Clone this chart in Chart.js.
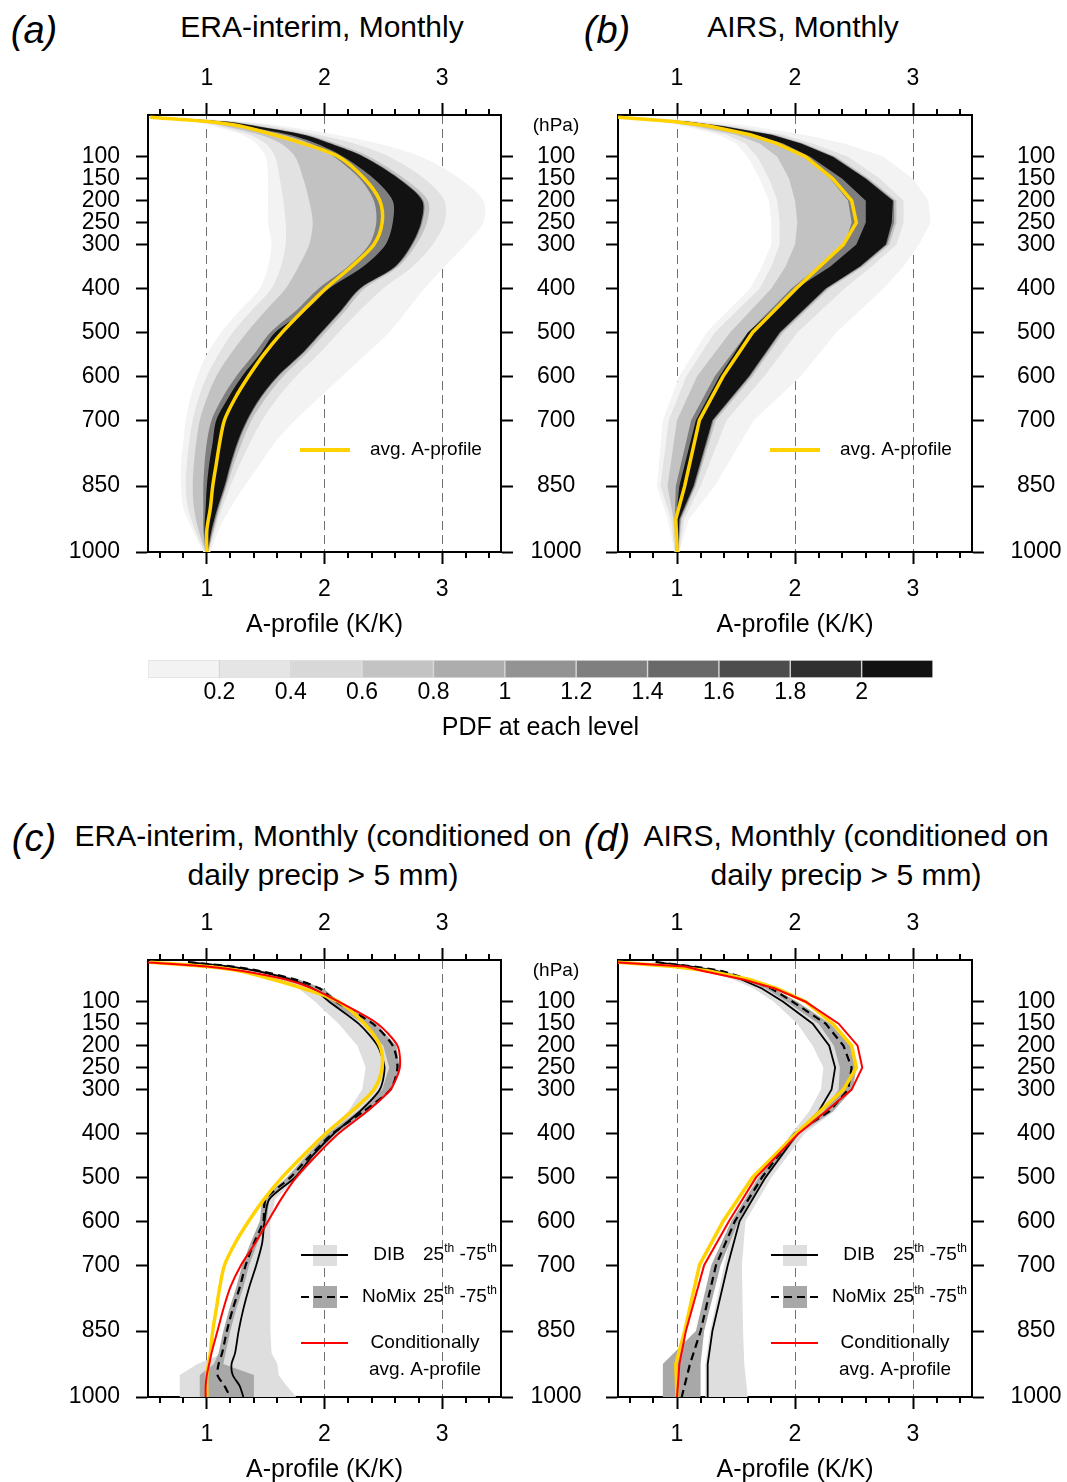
<!DOCTYPE html>
<html>
<head>
<meta charset="utf-8">
<script src="https://cdn.jsdelivr.net/npm/chart.js@4.4.1/dist/chart.umd.min.js"></script>
<style>
html, body { margin: 0; padding: 0; background: #fff; overflow: hidden; }
#page { position: relative; width: 1067px; height: 1482px; font-family: "Liberation Sans", Arial, sans-serif; color: #000; }
#page canvas { position: absolute; }
.t { position: absolute; white-space: nowrap; transform: translate(-50%, -50%); line-height: 1; font-size: 30px; }
.lt { font-style: italic; font-size: 38px; }
</style>
</head>
<body>
<div id="page">
  <div class="t lt" style="left:34px;top:30px">(a)</div>
  <div class="t" style="left:322px;top:27px">ERA-interim, Monthly</div>
  <div class="t lt" style="left:607px;top:30px">(b)</div>
  <div class="t" style="left:803px;top:27px">AIRS, Monthly</div>
  <div class="t lt" style="left:34px;top:838px">(c)</div>
  <div class="t" style="left:323px;top:836px">ERA-interim, Monthly (conditioned on</div>
  <div class="t" style="left:323px;top:875px">daily precip &gt; 5 mm)</div>
  <div class="t lt" style="left:607px;top:838px">(d)</div>
  <div class="t" style="left:846px;top:836px">AIRS, Monthly (conditioned on</div>
  <div class="t" style="left:846px;top:875px">daily precip &gt; 5 mm)</div>

  <canvas id="pa" width="600" height="610" style="left:0;top:40px"></canvas>
  <canvas id="pb" width="507" height="610" style="left:560px;top:40px"></canvas>
  <canvas id="cb" width="785" height="86" style="left:148px;top:660px"></canvas>
  <canvas id="pc" width="600" height="610" style="left:0;top:885px"></canvas>
  <canvas id="pd" width="507" height="610" style="left:560px;top:885px"></canvas>
</div>
<script>
Chart.defaults.font.family = '"Liberation Sans", Arial, sans-serif';
Chart.defaults.color = '#000';

// axes
const X_MIN = 0.5, X_MAX = 3.5;
const X_MAJOR = [1, 2, 3];
const X_MINOR = [0.6, 0.8, 1.2, 1.4, 1.6, 1.8, 2.2, 2.4, 2.6, 2.8, 3.2, 3.4];
const P_TOP = 5, P_BOTTOM = 1000;
const P_TICKS = [100, 150, 200, 250, 300, 400, 500, 600, 700, 850, 1000];

// pressure levels (hPa)
const LEV_ERA = [10, 20, 30, 50, 70, 100, 150, 200, 250, 300, 350, 400, 450, 500, 550, 600, 650, 700, 750, 800, 850, 900, 950, 1000];
const LEV_ERA_C = [10, 20, 30, 50, 70, 100, 150, 200, 250, 300, 350, 400, 450, 500, 550, 600, 650, 700, 750, 800, 850, 900, 925, 950, 975, 1000];
const LEV_AIRS = [10, 20, 30, 50, 70, 100, 150, 200, 250, 300, 350, 400, 500, 600, 700, 850, 925, 1000];

// average A-profiles
const AVG_ERA = [0.52, 1.0, 1.28, 1.57, 1.82, 2.12, 2.34, 2.47, 2.49, 2.42, 2.23, 2.01, 1.82, 1.64, 1.485, 1.355, 1.24, 1.15, 1.11, 1.08, 1.05, 1.03, 1.0, 1.0];
const AVG_AIRS = [0.5, 0.97, 1.27, 1.62, 1.85, 2.09, 2.32, 2.48, 2.52, 2.41, 2.21, 2.01, 1.64, 1.39, 1.19, 1.065, 0.99, 1.0];

// (a) PDF shading, left/right edge of each density class
const A_FAINT_L = [0.5, 0.88, 1.05, 1.3, 1.42, 1.5, 1.52, 1.52, 1.52, 1.55, 1.52, 1.45, 1.28, 1.12, 1.0, 0.92, 0.86, 0.82, 0.8, 0.78, 0.78, 0.8, 0.88, 0.97];
const A_FAINT_R = [0.72, 1.32, 1.65, 2.1, 2.45, 2.82, 3.15, 3.35, 3.35, 3.2, 3.02, 2.85, 2.7, 2.55, 2.35, 2.15, 1.95, 1.75, 1.58, 1.45, 1.32, 1.2, 1.1, 1.03];
const A_LIGHT_L = [0.5, 0.92, 1.1, 1.36, 1.5, 1.58, 1.62, 1.65, 1.67, 1.67, 1.63, 1.55, 1.38, 1.22, 1.1, 1.0, 0.93, 0.88, 0.85, 0.83, 0.82, 0.84, 0.9, 0.98];
const A_LIGHT_R = [0.65, 1.24, 1.55, 1.95, 2.25, 2.55, 2.85, 3.02, 3.02, 2.92, 2.75, 2.5, 2.3, 2.12, 1.95, 1.76, 1.6, 1.47, 1.37, 1.28, 1.2, 1.13, 1.07, 1.02];
const A_MID_L = [0.5, 0.95, 1.15, 1.45, 1.63, 1.75, 1.82, 1.87, 1.9, 1.87, 1.78, 1.67, 1.5, 1.34, 1.2, 1.08, 1.0, 0.94, 0.91, 0.89, 0.88, 0.89, 0.93, 0.99];
const A_MID_R = [0.6, 1.18, 1.45, 1.86, 2.1, 2.38, 2.68, 2.88, 2.87, 2.78, 2.63, 2.34, 2.18, 2.01, 1.84, 1.65, 1.5, 1.38, 1.3, 1.23, 1.17, 1.11, 1.06, 1.01];
const A_DARK_L = [0.5, 1.02, 1.28, 1.65, 1.88, 2.08, 2.3, 2.42, 2.44, 2.38, 2.2, 1.95, 1.76, 1.54, 1.4, 1.25, 1.13, 1.04, 1.0, 0.98, 0.97, 0.97, 0.97, 0.99];
const A_DARK_R = [0.57, 1.16, 1.42, 1.83, 2.06, 2.34, 2.64, 2.84, 2.83, 2.75, 2.61, 2.31, 2.15, 1.98, 1.81, 1.61, 1.46, 1.35, 1.27, 1.21, 1.16, 1.1, 1.05, 1.01];
const A_BLACK_L = [0.5, 1.04, 1.3, 1.7, 1.93, 2.16, 2.42, 2.58, 2.58, 2.52, 2.33, 2.04, 1.84, 1.58, 1.45, 1.3, 1.18, 1.08, 1.05, 1.02, 1.0, 0.99, 0.98, 0.995];
const A_BLACK_R = [0.56, 1.15, 1.41, 1.82, 2.05, 2.33, 2.63, 2.83, 2.82, 2.74, 2.6, 2.3, 2.14, 1.97, 1.8, 1.6, 1.45, 1.34, 1.26, 1.2, 1.15, 1.09, 1.04, 1.005];

// (b) PDF shading
const B_FAINT_L = [0.5, 0.85, 1.05, 1.35, 1.5, 1.6, 1.7, 1.78, 1.8, 1.8, 1.72, 1.62, 1.25, 1.02, 0.88, 0.83, 0.92, 0.98];
const B_FAINT_R = [0.72, 1.28, 1.62, 2.08, 2.42, 2.75, 3.0, 3.13, 3.15, 3.05, 2.92, 2.75, 2.35, 2.05, 1.65, 1.32, 1.1, 1.02];
const B_LIGHT_L = [0.5, 0.88, 1.1, 1.42, 1.58, 1.68, 1.78, 1.85, 1.87, 1.87, 1.8, 1.7, 1.32, 1.08, 0.93, 0.86, 0.95, 0.98];
const B_LIGHT_R = [0.65, 1.15, 1.48, 1.9, 2.15, 2.45, 2.72, 2.92, 2.92, 2.86, 2.65, 2.42, 2.02, 1.74, 1.42, 1.2, 1.06, 1.02];
const B_MID_L = [0.5, 0.9, 1.15, 1.5, 1.7, 1.85, 1.95, 2.0, 2.02, 2.0, 1.92, 1.8, 1.45, 1.17, 1.0, 0.92, 0.97, 0.99];
const B_MID_R = [0.6, 1.1, 1.41, 1.84, 2.08, 2.35, 2.63, 2.86, 2.86, 2.8, 2.58, 2.29, 1.9, 1.64, 1.33, 1.16, 1.04, 1.01];
const B_DARK_L = [0.5, 0.97, 1.25, 1.63, 1.86, 2.08, 2.3, 2.45, 2.48, 2.42, 2.2, 1.97, 1.6, 1.32, 1.12, 0.99, 0.98, 0.99];
const B_DARK_R = [0.56, 1.09, 1.39, 1.81, 2.06, 2.33, 2.61, 2.84, 2.84, 2.78, 2.56, 2.27, 1.88, 1.62, 1.31, 1.15, 1.03, 1.01];
const B_BLACK_L = [0.5, 0.99, 1.27, 1.66, 1.9, 2.13, 2.4, 2.6, 2.6, 2.52, 2.3, 2.01, 1.6, 1.36, 1.16, 1.02, 0.99, 0.995];
const B_BLACK_R = [0.55, 1.08, 1.38, 1.8, 2.05, 2.32, 2.6, 2.83, 2.82, 2.77, 2.55, 2.26, 1.87, 1.61, 1.3, 1.14, 1.02, 1.005];

// (c) conditioned on daily precip > 5 mm, ERA-interim
const C_RED = [0.45, 1.0, 1.3, 1.68, 1.9, 2.12, 2.45, 2.62, 2.64, 2.56, 2.36, 2.12, 1.93, 1.76, 1.63, 1.52, 1.41, 1.29, 1.2, 1.14, 1.09, 1.04, 1.02, 1.0, 0.99, 0.99];
const C_DIB = [0.84, 1.2, 1.42, 1.72, 1.9, 2.04, 2.29, 2.45, 2.51, 2.47, 2.3, 2.08, 1.9, 1.75, 1.53, 1.49, 1.47, 1.42, 1.36, 1.31, 1.27, 1.24, 1.21, 1.22, 1.28, 1.31];
const C_NOMIX = [0.84, 1.22, 1.45, 1.76, 1.96, 2.1, 2.41, 2.58, 2.62, 2.56, 2.33, 2.07, 1.88, 1.71, 1.5, 1.48, 1.4, 1.33, 1.28, 1.22, 1.17, 1.13, 1.1, 1.09, 1.15, 1.2];
const C_DIB_LO = [0.8, 1.1, 1.32, 1.6, 1.78, 1.92, 2.12, 2.28, 2.35, 2.32, 2.2, 2.0, 1.84, 1.68, 1.5, 1.45, 1.42, 1.36, 1.3, 1.25, 1.2, 1.15, 0.92, 0.77, 0.77, 0.77];
const C_DIB_HI = [0.9, 1.25, 1.47, 1.77, 1.96, 2.1, 2.38, 2.52, 2.57, 2.52, 2.35, 2.12, 1.94, 1.78, 1.58, 1.54, 1.54, 1.54, 1.54, 1.54, 1.54, 1.55, 1.6, 1.61, 1.68, 1.76];
const C_NOMIX_LO = [0.82, 1.18, 1.4, 1.7, 1.9, 2.04, 2.33, 2.5, 2.55, 2.49, 2.28, 2.03, 1.85, 1.68, 1.47, 1.45, 1.37, 1.3, 1.25, 1.19, 1.14, 1.1, 1.06, 0.94, 0.94, 0.94];
const C_NOMIX_HI = [0.87, 1.25, 1.48, 1.79, 1.99, 2.13, 2.44, 2.61, 2.64, 2.58, 2.37, 2.1, 1.91, 1.74, 1.53, 1.51, 1.43, 1.36, 1.31, 1.25, 1.2, 1.16, 1.14, 1.4, 1.4, 1.4];

// (d) conditioned on daily precip > 5 mm, AIRS
const D_RED = [0.45, 1.07, 1.22, 1.57, 1.83, 2.09, 2.37, 2.53, 2.57, 2.48, 2.26, 2.03, 1.67, 1.44, 1.23, 1.075, 1.02, 1.0];
const D_DIB = [0.82, 1.12, 1.33, 1.55, 1.72, 1.9, 2.15, 2.29, 2.34, 2.31, 2.2, 2.02, 1.75, 1.53, 1.43, 1.3, 1.26, 1.26];
const D_NOMIX = [0.82, 1.15, 1.38, 1.62, 1.8, 1.98, 2.26, 2.41, 2.48, 2.45, 2.29, 2.0, 1.72, 1.49, 1.33, 1.2, 1.11, 1.04];
const D_DIB_LO = [0.78, 1.05, 1.25, 1.48, 1.65, 1.82, 2.02, 2.15, 2.24, 2.22, 2.12, 1.97, 1.7, 1.48, 1.4, 1.28, 1.24, 1.24];
const D_DIB_HI = [0.85, 1.16, 1.38, 1.62, 1.8, 2.0, 2.3, 2.45, 2.5, 2.47, 2.33, 2.08, 1.8, 1.58, 1.55, 1.56, 1.57, 1.6];
const D_NOMIX_LO = [0.78, 1.12, 1.33, 1.57, 1.75, 1.93, 2.2, 2.33, 2.38, 2.37, 2.24, 1.98, 1.69, 1.46, 1.29, 1.16, 0.88, 0.88];
const D_NOMIX_HI = [0.84, 1.18, 1.4, 1.64, 1.82, 2.02, 2.3, 2.47, 2.52, 2.49, 2.32, 2.04, 1.76, 1.52, 1.37, 1.23, 1.2, 1.2];

// colour bar
const CB_EDGES = [0, 0.2, 0.4, 0.6, 0.8, 1, 1.2, 1.4, 1.6, 1.8, 2, 2.2];
const CB_TICKS = [0.2, 0.4, 0.6, 0.8, 1, 1.2, 1.4, 1.6, 1.8, 2];
const CB_COLORS = ['#f3f3f3', '#e5e5e5', '#d8d8d8', '#c3c3c3', '#adadad', '#939393', '#7f7f7f', '#696969', '#4d4d4d', '#303030', '#121212'];

const YELLOW = '#ffd200';
const RED = '#ff0000';
const DIB_FILL = '#dedede';
const NOMIX_FILL = '#a8a8a8';
const DASH = [8, 5];
const PDF_FILLS = ['#121212', '#7e7e7e', '#c2c2c2', '#e2e2e2', '#f3f3f3'];

function pts(levels, vals) {
  return levels.map((p, i) => ({ x: vals[i], y: p }));
}

function line(levels, vals, color, width, dash, tension) {
  return {
    data: pts(levels, vals), borderColor: color, borderWidth: width, borderDash: dash,
    tension: tension, fill: false, pointRadius: 0, indexAxis: 'y'
  };
}

// two hidden edges, the second filled back to the first
function band(levels, lo, hi, color, tension) {
  return [
    { data: pts(levels, lo), borderColor: 'rgba(0,0,0,0)', borderWidth: 0, tension: tension, fill: false, pointRadius: 0, indexAxis: 'y' },
    { data: pts(levels, hi), borderColor: 'rgba(0,0,0,0)', borderWidth: 0, tension: tension, fill: '-1', backgroundColor: color, pointRadius: 0, indexAxis: 'y' }
  ];
}

function seg(ctx, x1, x2, y, color, width, dash) {
  ctx.save();
  ctx.strokeStyle = color; ctx.lineWidth = width; ctx.setLineDash(dash);
  ctx.beginPath(); ctx.moveTo(x1, y); ctx.lineTo(x2, y); ctx.stroke();
  ctx.restore();
}

function pct(ctx, x, y) {
  const parts = [['25', 19, 0], ['th', 12, -6], [' -75', 19, 0], ['th', 12, -6]];
  ctx.textAlign = 'left';
  parts.forEach(([s, size, dy]) => {
    ctx.font = size + 'px "Liberation Sans"';
    ctx.fillText(s, x, y + dy);
    x += ctx.measureText(s).width;
  });
}

// minor ticks, unit label and the in-panel legend
const extras = {
  id: 'extras',
  afterDraw(chart, args, o) {
    const ctx = chart.ctx, a = chart.chartArea, sx = chart.scales.x;
    ctx.save();
    ctx.strokeStyle = '#000'; ctx.lineWidth = 2;
    ctx.beginPath();
    X_MINOR.forEach(v => {
      const px = Math.round(sx.getPixelForValue(v));
      ctx.moveTo(px, a.bottom); ctx.lineTo(px, a.bottom + 6);
      ctx.moveTo(px, a.top); ctx.lineTo(px, a.top - 6);
    });
    ctx.stroke();
    ctx.fillStyle = '#000';
    ctx.textBaseline = 'middle';
    ctx.font = '19px "Liberation Sans"';
    if (o.hpaX) {
      ctx.textAlign = 'center';
      ctx.fillText('(hPa)', a.right + o.hpaX, a.top + 11);
    }
    const L = a.left, T = a.top;
    if (o.legend === 'avg') {
      seg(ctx, L + 152, L + 202, T + 335, YELLOW, 4, []);
      ctx.textAlign = 'left';
      ctx.fillText('avg. A-profile', L + 222, T + 335);
    } else if (o.legend === 'cond') {
      ctx.fillStyle = DIB_FILL; ctx.fillRect(L + 165, T + 285, 24, 21);
      seg(ctx, L + 153, L + 200, T + 295, '#000', 1.8, []);
      ctx.fillStyle = NOMIX_FILL; ctx.fillRect(L + 165, T + 326, 24, 22);
      seg(ctx, L + 153, L + 200, T + 337, '#000', 2.2, DASH);
      seg(ctx, L + 153, L + 200, T + 383, RED, 2, []);
      ctx.fillStyle = '#000';
      ctx.font = '19px "Liberation Sans"';
      ctx.textAlign = 'center';
      ctx.fillText('DIB', L + 241, T + 295);
      ctx.fillText('NoMix', L + 241, T + 337);
      ctx.fillText('Conditionally', L + 277, T + 383);
      ctx.fillText('avg. A-profile', L + 277, T + 410);
      pct(ctx, L + 275, T + 295);
      pct(ctx, L + 275, T + 337);
    }
    ctx.restore();
  }
};

function panelScales(cfg) {
  const tickFont = { size: 23 };
  const xTicks = s => { s.ticks = X_MAJOR.map(v => ({ value: v })); };
  const yTicks = s => { s.ticks = P_TICKS.map(v => ({ value: v })); };
  const frame = { display: true, color: '#000', width: 2 };
  const tickGrid = { drawOnChartArea: false, tickColor: '#000', tickWidth: 2, tickLength: 12 };
  return {
    x: {
      type: 'linear', min: X_MIN, max: X_MAX, position: 'bottom',
      afterBuildTicks: xTicks, afterFit: s => { s.height = 98; },
      ticks: { font: tickFont, color: '#000', padding: 12, autoSkip: false, maxRotation: 0, callback: v => String(v) },
      grid: { color: '#707070', lineWidth: 1, tickColor: '#000', tickWidth: 2, tickLength: 12 },
      border: { display: true, color: '#000', width: 2, dash: [9, 5] },
      title: { display: true, text: 'A-profile (K/K)', color: '#000', font: { size: 25 }, padding: { top: 0, bottom: 10 } }
    },
    xTop: {
      type: 'linear', min: X_MIN, max: X_MAX, position: 'top',
      afterBuildTicks: xTicks, afterFit: s => { s.height = 75; },
      ticks: { font: tickFont, color: '#000', padding: 11, autoSkip: false, maxRotation: 0, callback: v => String(v) },
      grid: tickGrid, border: frame
    },
    y: {
      type: 'linear', reverse: true, min: P_TOP, max: P_BOTTOM, position: 'left',
      afterBuildTicks: yTicks, afterFit: s => { s.width = cfg.leftW; },
      ticks: { display: cfg.leftLabels, font: tickFont, color: '#000', padding: 16, autoSkip: false, callback: v => String(v) },
      grid: tickGrid, border: frame
    },
    yRight: {
      type: 'linear', reverse: true, min: P_TOP, max: P_BOTTOM, position: 'right',
      afterBuildTicks: yTicks, afterFit: s => { s.width = cfg.rightW; },
      ticks: { font: tickFont, color: '#000', padding: cfg.rightPad, crossAlign: 'center', autoSkip: false, callback: v => String(v) },
      grid: tickGrid, border: frame
    }
  };
}

function makePanel(id, cfg) {
  new Chart(document.getElementById(id), {
    type: 'line',
    data: { datasets: cfg.datasets },
    options: {
      responsive: false, animation: false, events: [],
      indexAxis: 'y',
      layout: { padding: 0 },
      plugins: {
        legend: { display: false }, tooltip: { enabled: false },
        filler: { propagate: false, drawTime: 'beforeDatasetsDraw' },
        extras: cfg.extras
      },
      scales: panelScales(cfg)
    },
    plugins: [extras]
  });
}

function pdfSets(levels, edges, tension) {
  const sets = [];
  edges.forEach((e, i) => sets.push(...band(levels, e[0], e[1], PDF_FILLS[i], tension)));
  return sets;
}

makePanel('pa', {
  leftW: 148, rightW: 99, leftLabels: true, rightPad: 17.5,
  extras: { hpaX: 55, legend: 'avg' },
  datasets: [line(LEV_ERA, AVG_ERA, YELLOW, 3.5, [], 0.3)].concat(pdfSets(LEV_ERA, [
    [A_BLACK_L, A_BLACK_R], [A_DARK_L, A_DARK_R], [A_MID_L, A_MID_R], [A_LIGHT_L, A_LIGHT_R], [A_FAINT_L, A_FAINT_R]
  ], 0.3))
});

makePanel('pb', {
  leftW: 58, rightW: 95, leftLabels: false, rightPad: 26.5,
  extras: { hpaX: 0, legend: 'avg' },
  datasets: [line(LEV_AIRS, AVG_AIRS, YELLOW, 3.5, [], 0)].concat(pdfSets(LEV_AIRS, [
    [B_BLACK_L, B_BLACK_R], [B_DARK_L, B_DARK_R], [B_MID_L, B_MID_R], [B_LIGHT_L, B_LIGHT_R], [B_FAINT_L, B_FAINT_R]
  ], 0))
});

makePanel('pc', {
  leftW: 148, rightW: 99, leftLabels: true, rightPad: 17.5,
  extras: { hpaX: 55, legend: 'cond' },
  datasets: [
    line(LEV_ERA_C, C_RED, RED, 2, [], 0.25),
    line(LEV_ERA, AVG_ERA, YELLOW, 3.5, [], 0.3),
    line(LEV_ERA_C, C_NOMIX, '#000', 2.2, DASH, 0.25),
    line(LEV_ERA_C, C_DIB, '#000', 1.8, [], 0.25)
  ].concat(band(LEV_ERA_C, C_NOMIX_LO, C_NOMIX_HI, NOMIX_FILL, 0), band(LEV_ERA_C, C_DIB_LO, C_DIB_HI, DIB_FILL, 0))
});

makePanel('pd', {
  leftW: 58, rightW: 95, leftLabels: false, rightPad: 26.5,
  extras: { hpaX: 0, legend: 'cond' },
  datasets: [
    line(LEV_AIRS, D_RED, RED, 2, [], 0),
    line(LEV_AIRS, AVG_AIRS, YELLOW, 3.5, [], 0),
    line(LEV_AIRS, D_NOMIX, '#000', 2.2, DASH, 0),
    line(LEV_AIRS, D_DIB, '#000', 1.8, [], 0)
  ].concat(band(LEV_AIRS, D_NOMIX_LO, D_NOMIX_HI, NOMIX_FILL, 0), band(LEV_AIRS, D_DIB_LO, D_DIB_HI, DIB_FILL, 0))
});

// colour bar: one cell per PDF class
new Chart(document.getElementById('cb'), {
  type: 'bar',
  data: {
    datasets: [{
      data: CB_EDGES.slice(0, -1).map((lo, i) => ({ x: (lo + CB_EDGES[i + 1]) / 2, y: 1 })),
      backgroundColor: CB_COLORS, borderColor: 'rgba(0,0,0,0.12)', borderWidth: 1,
      borderSkipped: false, barPercentage: 1, categoryPercentage: 1
    }]
  },
  options: {
    responsive: false, animation: false, events: [],
    layout: { padding: 0 },
    plugins: { legend: { display: false }, tooltip: { enabled: false } },
    scales: {
      x: {
        type: 'linear', min: 0, max: 2.2, offset: false, position: 'bottom',
        afterBuildTicks: s => { s.ticks = CB_TICKS.map(v => ({ value: v })); },
        afterFit: s => { s.height = 68; },
        ticks: { font: { size: 23 }, color: '#000', padding: 1, autoSkip: false, maxRotation: 0, callback: v => String(v) },
        grid: { display: false, drawTicks: false, offset: false },
        border: { display: false },
        title: { display: true, text: 'PDF at each level', color: '#000', font: { size: 25 }, padding: { top: 0, bottom: 3 } }
      },
      y: { type: 'linear', min: 0, max: 1, display: false }
    }
  }
});
</script>
</body>
</html>
